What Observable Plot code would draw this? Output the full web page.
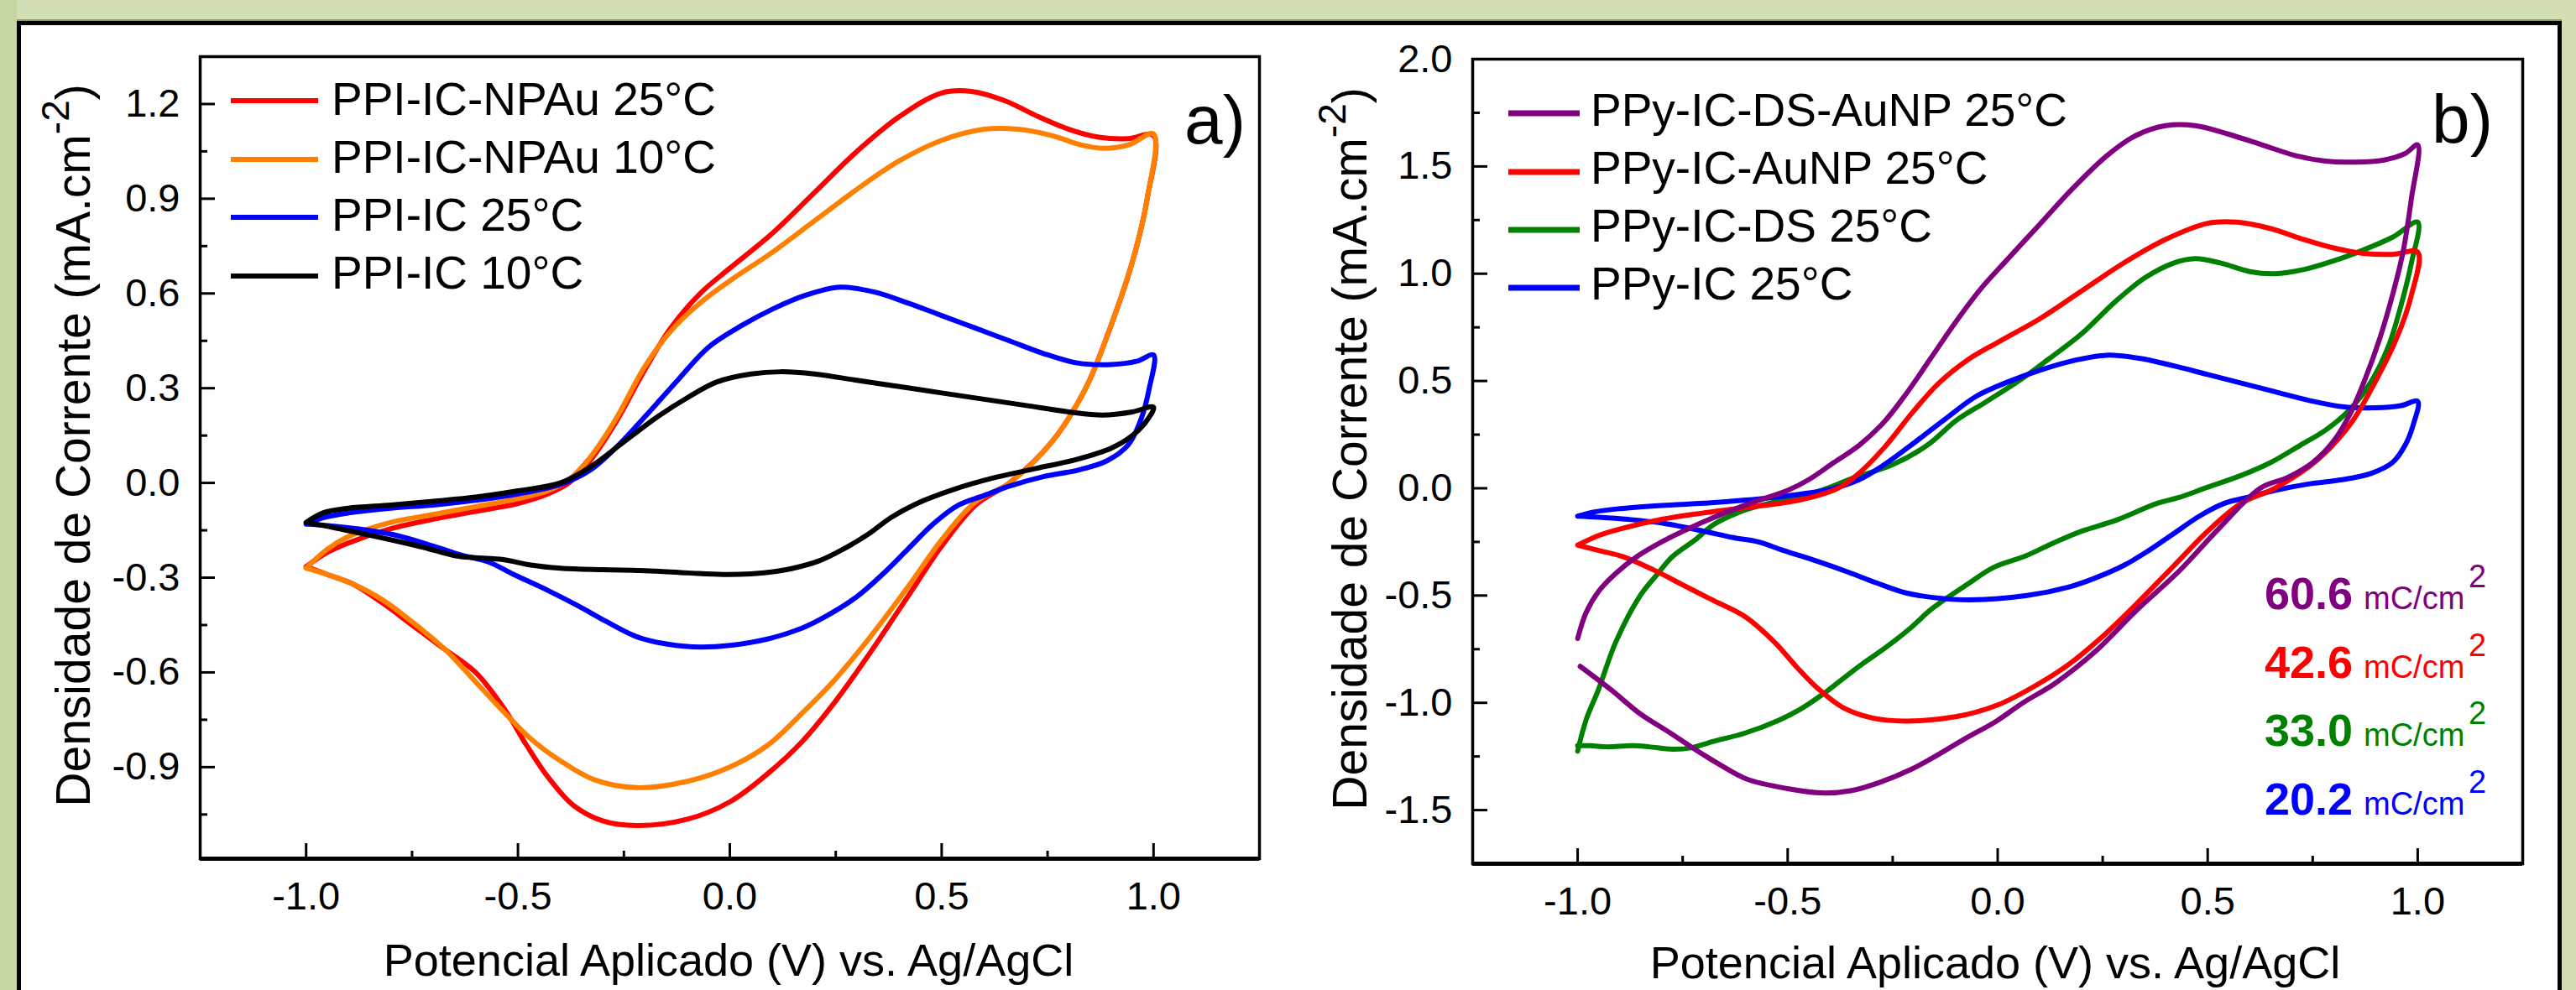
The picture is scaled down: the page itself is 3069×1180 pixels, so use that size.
<!DOCTYPE html>
<html><head><meta charset="utf-8">
<script src="https://cdn.jsdelivr.net/npm/d3@7"></script>
<script src="https://cdn.jsdelivr.net/npm/@observablehq/plot@0.6"></script>
<style>
html,body{margin:0;padding:0;}
body{width:3069px;height:1180px;overflow:hidden;background:#d2dfb4;position:relative;font-family:"Liberation Sans",Arial,sans-serif;}
#leftstrip{position:absolute;left:0;top:0;width:20px;height:1180px;background:#c6d6a2;}
#panel{position:absolute;left:20px;top:25px;width:3032px;height:1200px;background:#fff;border:5px solid #000;border-bottom:none;box-sizing:border-box;box-shadow:0 -2px 0 #8c9a64;}
.plotbox{position:absolute;top:0;height:1180px;}
</style></head><body>
<div id="leftstrip"></div>
<div id="panel"></div>
<div id="plotA" class="plotbox" style="left:0;width:1530px"></div>
<div id="plotB" class="plotbox" style="left:1530px;width:1539px"></div>
<script>
// ---------- DATA (potential V vs. Ag/AgCl, current density mA.cm-2) ----------
const ppiNPAu25 = [ // PPI-IC-NPAu 25°C (red) ; also PPy-IC-AuNP 25°C
  [-1.0,-0.265],[-0.95,-0.22],[-0.9,-0.19],[-0.8,-0.145],[-0.7,-0.115],[-0.6,-0.09],[-0.5,-0.065],[-0.43,-0.035],[-0.38,0.0],[-0.33,0.07],[-0.27,0.19],[-0.2,0.36],[-0.14,0.49],[-0.07,0.6],[0.0,0.68],[0.1,0.79],[0.2,0.92],[0.3,1.05],[0.4,1.16],[0.5,1.235],[0.57,1.24],[0.65,1.21],[0.72,1.165],[0.8,1.12],[0.87,1.095],[0.94,1.09],[1.0,1.10],
  [0.985,0.9],[0.95,0.7],[0.9,0.5],[0.84,0.3],[0.76,0.13],[0.66,0.0],[0.58,-0.07],[0.5,-0.2],[0.42,-0.36],[0.33,-0.54],[0.25,-0.69],[0.17,-0.82],[0.09,-0.92],[0.0,-1.01],[-0.1,-1.065],[-0.22,-1.085],[-0.3,-1.07],[-0.37,-1.02],[-0.43,-0.93],[-0.48,-0.83],[-0.53,-0.72],[-0.6,-0.6],[-0.68,-0.52],[-0.75,-0.45],[-0.82,-0.38],[-0.89,-0.32],[-0.95,-0.29],[-1.0,-0.265]
];
const ppiNPAu10 = [ // PPI-IC-NPAu 10°C (orange)
  [-1.0,-0.27],[-0.95,-0.21],[-0.9,-0.17],[-0.8,-0.125],[-0.7,-0.1],[-0.6,-0.075],[-0.5,-0.05],[-0.43,-0.025],[-0.38,0.01],[-0.33,0.08],[-0.27,0.2],[-0.2,0.37],[-0.14,0.48],[-0.07,0.57],[0.0,0.64],[0.1,0.73],[0.2,0.83],[0.3,0.93],[0.4,1.02],[0.5,1.085],[0.6,1.12],[0.68,1.12],[0.76,1.1],[0.83,1.07],[0.88,1.06],[0.94,1.07],[1.0,1.105],
  [0.985,0.9],[0.95,0.7],[0.9,0.5],[0.84,0.3],[0.76,0.13],[0.66,0.0],[0.58,-0.06],[0.5,-0.18],[0.42,-0.33],[0.33,-0.49],[0.25,-0.62],[0.17,-0.73],[0.09,-0.83],[0.0,-0.9],[-0.1,-0.945],[-0.22,-0.965],[-0.32,-0.94],[-0.4,-0.88],[-0.47,-0.81],[-0.53,-0.73],[-0.6,-0.63],[-0.67,-0.53],[-0.75,-0.44],[-0.82,-0.37],[-0.89,-0.32],[-0.95,-0.29],[-1.0,-0.27]
];
const ppiIC25 = [ // PPI-IC 25°C (blue) ; also PPy-IC 25°C
  [-1.0,-0.13],[-0.96,-0.11],[-0.9,-0.095],[-0.8,-0.08],[-0.7,-0.07],[-0.6,-0.055],[-0.5,-0.035],[-0.4,-0.005],[-0.33,0.04],[-0.27,0.11],[-0.2,0.21],[-0.12,0.33],[-0.05,0.43],[0.03,0.5],[0.1,0.55],[0.18,0.595],[0.26,0.62],[0.34,0.605],[0.42,0.57],[0.5,0.53],[0.58,0.49],[0.66,0.45],[0.74,0.41],[0.82,0.38],[0.9,0.375],[0.96,0.385],[1.0,0.405],
  [0.99,0.3],[0.97,0.2],[0.94,0.12],[0.89,0.07],[0.82,0.04],[0.74,0.02],[0.66,-0.01],[0.6,-0.04],[0.54,-0.07],[0.48,-0.13],[0.42,-0.21],[0.36,-0.29],[0.3,-0.36],[0.23,-0.42],[0.17,-0.46],[0.07,-0.5],[-0.065,-0.52],[-0.15,-0.51],[-0.22,-0.487],[-0.29,-0.44],[-0.357,-0.39],[-0.43,-0.34],[-0.51,-0.29],[-0.57,-0.25],[-0.63,-0.23],[-0.7,-0.2],[-0.79,-0.165],[-0.88,-0.145],[-0.95,-0.135],[-1.0,-0.13]
];
const ppiIC10 = [ // PPI-IC 10°C (black)
  [-1.0,-0.125],[-0.96,-0.095],[-0.9,-0.08],[-0.8,-0.07],[-0.7,-0.058],[-0.6,-0.045],[-0.5,-0.025],[-0.4,0.0],[-0.33,0.05],[-0.25,0.13],[-0.17,0.21],[-0.1,0.27],[-0.03,0.32],[0.05,0.345],[0.12,0.352],[0.2,0.345],[0.3,0.325],[0.4,0.305],[0.5,0.285],[0.6,0.265],[0.7,0.245],[0.8,0.225],[0.88,0.215],[0.95,0.225],[1.0,0.24],
  [0.98,0.19],[0.95,0.15],[0.9,0.11],[0.82,0.075],[0.72,0.045],[0.62,0.015],[0.53,-0.02],[0.44,-0.066],[0.38,-0.11],[0.325,-0.164],[0.26,-0.215],[0.21,-0.247],[0.15,-0.27],[0.11,-0.28],[0.05,-0.288],[-0.016,-0.29],[-0.1,-0.285],[-0.2,-0.278],[-0.3,-0.275],[-0.4,-0.27],[-0.47,-0.26],[-0.535,-0.243],[-0.6,-0.237],[-0.65,-0.23],[-0.72,-0.205],[-0.79,-0.183],[-0.87,-0.16],[-0.94,-0.14],[-1.0,-0.125]
];
const ppyDSAuNP25 = [ // PPy-IC-DS-AuNP 25°C (purple)
  [-1.0,-0.7],[-0.98,-0.58],[-0.95,-0.48],[-0.911,-0.4],[-0.86,-0.32],[-0.8,-0.25],[-0.727,-0.18],[-0.65,-0.115],[-0.575,-0.06],[-0.5,-0.01],[-0.45,0.04],[-0.39,0.12],[-0.33,0.2],[-0.27,0.31],[-0.218,0.44],[-0.158,0.61],[-0.098,0.78],[-0.04,0.93],[0.02,1.06],[0.1,1.23],[0.18,1.4],[0.26,1.55],[0.33,1.645],[0.4,1.69],[0.47,1.69],[0.55,1.65],[0.63,1.6],[0.71,1.55],[0.78,1.525],[0.85,1.52],[0.92,1.53],[0.97,1.56],[1.0,1.6],
  [0.985,1.35],[0.965,1.1],[0.94,0.9],[0.91,0.7],[0.875,0.51],[0.84,0.35],[0.8,0.22],[0.75,0.12],[0.69,0.05],[0.625,0.0],[0.527,-0.187],[0.43,-0.39],[0.33,-0.57],[0.233,-0.76],[0.136,-0.91],[0.06,-1.0],[-0.002,-1.084],[-0.08,-1.17],[-0.158,-1.26],[-0.206,-1.31],[-0.28,-1.37],[-0.35,-1.41],[-0.42,-1.42],[-0.5,-1.4],[-0.598,-1.355],[-0.66,-1.29],[-0.715,-1.224],[-0.78,-1.14],[-0.852,-1.05],[-0.92,-0.94],[-0.994,-0.83]
];
const ppyDS25 = [ // PPy-IC-DS 25°C (green)
  [-1.0,-1.225],[-0.98,-1.08],[-0.95,-0.936],[-0.91,-0.72],[-0.852,-0.503],[-0.81,-0.4],[-0.775,-0.32],[-0.72,-0.24],[-0.677,-0.17],[-0.62,-0.115],[-0.575,-0.086],[-0.52,-0.06],[-0.47,-0.04],[-0.42,-0.01],[-0.34,0.05],[-0.25,0.11],[-0.168,0.2],[-0.098,0.317],[-0.03,0.4],[0.05,0.5],[0.12,0.6],[0.2,0.72],[0.28,0.87],[0.35,0.98],[0.42,1.05],[0.47,1.07],[0.53,1.05],[0.6,1.01],[0.66,1.0],[0.73,1.02],[0.8,1.06],[0.87,1.11],[0.94,1.17],[1.0,1.24],
  [0.985,1.05],[0.96,0.85],[0.93,0.66],[0.89,0.5],[0.84,0.37],[0.78,0.27],[0.72,0.2],[0.65,0.12],[0.58,0.06],[0.5,0.005],[0.43,-0.044],[0.38,-0.07],[0.283,-0.148],[0.2,-0.2],[0.136,-0.252],[0.067,-0.315],[-0.011,-0.37],[-0.07,-0.445],[-0.158,-0.564],[-0.205,-0.647],[-0.265,-0.74],[-0.323,-0.82],[-0.37,-0.89],[-0.42,-0.965],[-0.47,-1.03],[-0.52,-1.08],[-0.6,-1.14],[-0.677,-1.18],[-0.73,-1.21],[-0.775,-1.216],[-0.83,-1.205],[-0.87,-1.2],[-0.93,-1.205],[-0.97,-1.2],[-1.0,-1.2]
];
const ppyAuNP25 = ppiNPAu25;
const ppyIC25 = ppiIC25;

const seriesA = ["PPI-IC-NPAu 25°C", "PPI-IC-NPAu 10°C", "PPI-IC 25°C", "PPI-IC 10°C"];
const colorsA = ["#ff0000", "#ff8000", "#0000ff", "#000000"];
const dataA = [ppiNPAu25, ppiNPAu10, ppiIC25, ppiIC10];

const seriesB = ["PPy-IC-DS-AuNP 25°C", "PPy-IC-AuNP 25°C", "PPy-IC-DS 25°C", "PPy-IC 25°C"];
const colorsB = ["#800080", "#ff0000", "#008000", "#0000ff"];
const dataB = [ppyDSAuNP25, ppyAuNP25, ppyDS25, ppyIC25];
const drawOrderB = [2, 3, 1, 0];

const charges = ["60.6", "42.6", "33.0", "20.2"];
const chargeUnit = "mC/cm";

const xDomain = [-1.25, 1.25];
const xMajor = [-1, -0.5, 0, 0.5, 1];
const xMinor = [-0.75, -0.25, 0.25, 0.75];
const yDomainA = [-1.19, 1.35];
const yMajorA = [-0.9, -0.6, -0.3, 0, 0.3, 0.6, 0.9, 1.2];
const yMinorA = [-1.05, -0.75, -0.45, -0.15, 0.15, 0.45, 0.75, 1.05];
const yDomainB = [-1.75, 2.0];
const yMajorB = [-1.5, -1, -0.5, 0, 0.5, 1, 1.5, 2];
const yMinorB = [-1.25, -0.75, -0.25, 0.25, 0.75, 1.25, 1.75];

const xTitle = "Potencial Aplicado (V) vs. Ag/AgCl";
const yTitle = "Densidade de Corrente (mA.cm";

// ---------- DRAWING ----------
const FONT = '"Liberation Sans", Arial, Helvetica, sans-serif';
const fmt = d => d.toFixed(1);
const blank = () => "";

function makePlot({width, margins, yDomain, yMajor, yMinor, lines}) {
  return Plot.plot({
    width, height: 1180,
    marginLeft: margins[0], marginRight: margins[1], marginTop: margins[2], marginBottom: margins[3],
    x: {domain: xDomain},
    y: {domain: yDomain},
    style: {background: "transparent", color: "black", fontFamily: FONT, overflow: "visible", maxWidth: "none"},
    marks: [
      ...lines.map(s => Plot.line(s.data, {x: d => d[0], y: d => d[1], stroke: s.color, strokeWidth: 6, curve: "catmull-rom"})),
      Plot.frame({stroke: "black", strokeWidth: 3.5}),
      Plot.ruleY([yDomain[0]], {stroke: "black", strokeWidth: 5}),
      Plot.axisX(xMajor, {tickSize: 0, tickPadding: 27, tickFormat: fmt, fontSize: 47, label: null}),
      Plot.axisX(xMajor, {tickSize: -18, tickFormat: blank, strokeWidth: 3, label: null}),
      Plot.axisX(xMinor, {tickSize: -9, tickFormat: blank, strokeWidth: 3, label: null}),
      Plot.axisY(yMajor, {tickSize: 0, tickPadding: 24, tickFormat: fmt, fontSize: 47, label: null}),
      Plot.axisY(yMajor, {tickSize: -18, tickFormat: blank, strokeWidth: 3, label: null}),
      Plot.axisY(yMinor, {tickSize: -9, tickFormat: blank, strokeWidth: 3, label: null})
    ]
  });
}

document.getElementById("plotA").append(makePlot({
  width: 1530, margins: [238, 30, 67, 157], yDomain: yDomainA, yMajor: yMajorA, yMinor: yMinorA,
  lines: dataA.map((d, i) => ({data: d, color: colorsA[i]}))
}));
document.getElementById("plotB").append(makePlot({
  width: 1539, margins: [224, 64, 70, 151], yDomain: yDomainB, yMajor: yMajorB, yMinor: yMinorB,
  lines: drawOrderB.map(i => ({data: dataB[i], color: colorsB[i]}))
}));

// ---------- ANNOTATIONS (titles, legends, labels) ----------
const ov = d3.select("body").append("svg")
  .attr("width", 3069).attr("height", 1180)
  .style("position", "absolute").style("left", 0).style("top", 0)
  .attr("font-family", FONT).attr("fill", "black");

function yAxisTitle(x, y) {
  const t = ov.append("text").attr("transform", `translate(${x},${y}) rotate(-90)`)
    .attr("text-anchor", "middle").attr("font-size", 57);
  t.append("tspan").text(yTitle);
  t.append("tspan").attr("font-size", 46).attr("dy", -25).text("-2");
  t.append("tspan").attr("dy", 25).text(")");
}
yAxisTitle(107, 531);
yAxisTitle(1628, 535);

ov.append("text").attr("x", 868).attr("y", 1163).attr("text-anchor", "middle").attr("font-size", 54).text(xTitle);
ov.append("text").attr("x", 2377).attr("y", 1166).attr("text-anchor", "middle").attr("font-size", 54).text(xTitle);

function legend(names, colors, x1, x2, tx, lineYs, baseYs, sw) {
  names.forEach((n, i) => {
    ov.append("line").attr("x1", x1).attr("x2", x2).attr("y1", lineYs[i]).attr("y2", lineYs[i])
      .attr("stroke", colors[i]).attr("stroke-width", sw);
    ov.append("text").attr("x", tx).attr("y", baseYs[i]).attr("font-size", 55).text(n);
  });
}
legend(seriesA, colorsA, 275, 379, 395, [120, 190, 259, 329], [137, 206, 275, 344], 6);
legend(seriesB, colorsB, 1797, 1882, 1895, [135, 205, 274, 343], [150, 219, 288, 357], 7);

ov.append("text").attr("x", 1484).attr("y", 171).attr("text-anchor", "end").attr("font-size", 82).text("a)");
ov.append("text").attr("x", 2970).attr("y", 170).attr("text-anchor", "end").attr("font-size", 82).text("b)");

const chargeBase = [726, 808, 889, 971];
charges.forEach((c, i) => {
  const t = ov.append("text").attr("y", chargeBase[i]).attr("fill", colorsB[i]);
  t.append("tspan").attr("x", 2698).attr("font-size", 54).attr("font-weight", "bold").text(c);
  t.append("tspan").attr("x", 2816).attr("font-size", 38).text(chargeUnit);
  t.append("tspan").attr("x", 2941).attr("y", chargeBase[i] - 26).attr("font-size", 38).text("2");
});
</script>
</body></html>
